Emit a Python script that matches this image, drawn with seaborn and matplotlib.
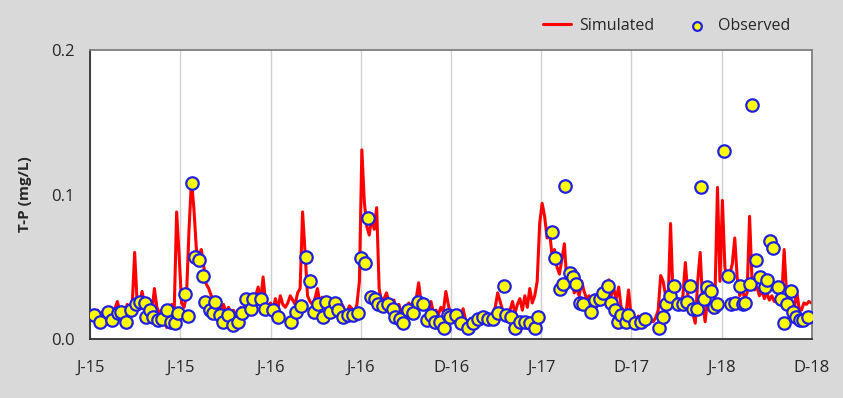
import numpy as np
import pandas as pd
import seaborn as sns
import matplotlib.pyplot as plt

# simulated T-P, one value every 5 days from 1 Jan 2015
sim_step = 5
sim_tp = [
    0.016, 0.018, 0.015, 0.020, 0.017, 0.019, 0.016, 0.022, 0.018, 0.020,
    0.021, 0.026, 0.019, 0.022, 0.018, 0.024, 0.020, 0.023, 0.060, 0.025,
    0.022, 0.033, 0.024, 0.028, 0.021, 0.019, 0.035, 0.022, 0.018, 0.020,
    0.012, 0.008, 0.020, 0.024, 0.018, 0.088, 0.058, 0.025, 0.022, 0.030,
    0.075, 0.110, 0.090, 0.062, 0.058, 0.062, 0.050, 0.038, 0.035, 0.030,
    0.028, 0.022, 0.026, 0.020, 0.024, 0.018, 0.022, 0.017, 0.020, 0.016,
    0.019, 0.022, 0.018, 0.025, 0.021, 0.028, 0.024, 0.030, 0.036, 0.026,
    0.043, 0.026, 0.022, 0.025, 0.020, 0.028, 0.021, 0.030, 0.024, 0.022,
    0.025, 0.030, 0.027, 0.024, 0.032, 0.035, 0.088, 0.060, 0.030, 0.026,
    0.024, 0.028, 0.035, 0.025, 0.029, 0.023, 0.027, 0.022, 0.026, 0.020,
    0.022, 0.018, 0.024, 0.020, 0.019, 0.023, 0.021, 0.018, 0.024, 0.040,
    0.131, 0.095, 0.078, 0.072, 0.085, 0.076, 0.091, 0.035, 0.026, 0.028,
    0.032, 0.025, 0.022, 0.027, 0.020, 0.024, 0.018, 0.022, 0.021, 0.025,
    0.023, 0.026, 0.028, 0.039, 0.025, 0.022, 0.024, 0.020, 0.026, 0.018,
    0.020, 0.017, 0.022, 0.019, 0.033, 0.024, 0.016, 0.018, 0.015, 0.017,
    0.014, 0.021, 0.013, 0.012, 0.011, 0.013, 0.012, 0.014, 0.013, 0.015,
    0.014, 0.016, 0.015, 0.018, 0.022, 0.032, 0.026, 0.020, 0.018, 0.016,
    0.020, 0.026, 0.018, 0.024, 0.028, 0.020, 0.030, 0.022, 0.035, 0.025,
    0.030, 0.040, 0.080, 0.094, 0.085, 0.070, 0.075, 0.058, 0.062, 0.050,
    0.045, 0.055, 0.066, 0.040, 0.036, 0.042, 0.032, 0.035, 0.030, 0.040,
    0.033, 0.028, 0.030, 0.024, 0.027, 0.022, 0.026, 0.030, 0.025, 0.032,
    0.041, 0.030, 0.035, 0.028, 0.036, 0.022, 0.020, 0.018, 0.034, 0.016,
    0.015, 0.013, 0.016, 0.014, 0.012, 0.015, 0.013, 0.014, 0.012, 0.015,
    0.020, 0.044, 0.040, 0.030, 0.025, 0.080, 0.030, 0.024, 0.028, 0.022,
    0.030, 0.053, 0.030, 0.026, 0.018, 0.011, 0.040, 0.060, 0.025, 0.012,
    0.028, 0.022, 0.018, 0.030, 0.105, 0.040, 0.096, 0.050, 0.040, 0.045,
    0.052, 0.070, 0.042, 0.030, 0.035, 0.028, 0.032, 0.085, 0.040, 0.034,
    0.036, 0.030, 0.034, 0.028, 0.032, 0.027, 0.030, 0.026, 0.029, 0.024,
    0.028, 0.062, 0.030, 0.022, 0.020, 0.018, 0.034, 0.022, 0.020, 0.025,
    0.024, 0.026, 0.025,
]

# observed samples (day since 1 Jan 2015, mg/L)
obs_day = [
    8, 20, 36, 45, 57, 63, 73, 83, 93, 101, 111, 113, 121, 127, 138, 146,
    156, 164, 172, 178, 192, 198, 206, 212, 221, 229, 233, 243, 249, 253,
    263, 269, 279, 289, 299, 308, 316, 326, 330, 346, 354,
    370, 380, 407, 417, 427, 437, 445, 453, 461, 471, 478, 486, 496, 502,
    512, 522, 532, 542, 548, 556, 563, 569, 577, 583, 593, 603, 613, 617,
    627, 633, 643, 654, 664, 674, 682, 690, 698, 708, 716, 724,
    728, 741, 751, 765, 775, 785, 795, 805, 815, 826, 838, 842, 852, 860,
    870, 880, 890, 900, 907, 935, 941, 951, 957, 961, 971, 977, 983, 992,
    998, 1014, 1022, 1032, 1038, 1048, 1054, 1062, 1068, 1074, 1085,
    1089, 1103, 1115, 1123, 1151, 1159, 1166, 1174, 1182, 1190, 1200, 1208,
    1214, 1220, 1228, 1236, 1242, 1248, 1257, 1263, 1269, 1283, 1291, 1297,
    1305, 1315, 1321, 1325, 1336, 1340, 1348, 1356, 1366, 1370, 1376, 1382,
    1392, 1398, 1404, 1410, 1418, 1423, 1429, 1437, 1443, 1453,
]
obs_tp = [
    0.017, 0.012, 0.019, 0.013, 0.018, 0.019, 0.012, 0.020, 0.024, 0.026,
    0.025, 0.015, 0.020, 0.015, 0.013, 0.014, 0.020, 0.012, 0.011, 0.018,
    0.031, 0.016, 0.108, 0.057, 0.055, 0.044, 0.026, 0.020, 0.018, 0.026,
    0.017, 0.012, 0.017, 0.010, 0.012, 0.018, 0.028, 0.021, 0.028, 0.028,
    0.021,
    0.020, 0.015, 0.012, 0.019, 0.023, 0.057, 0.040, 0.019, 0.024, 0.015,
    0.026, 0.019, 0.025, 0.020, 0.015, 0.017, 0.017, 0.018, 0.056, 0.053,
    0.084, 0.029, 0.028, 0.024, 0.023, 0.024, 0.021, 0.015, 0.014, 0.011,
    0.020, 0.018, 0.026, 0.024, 0.013, 0.017, 0.012, 0.012, 0.008, 0.017,
    0.015, 0.017, 0.011, 0.008, 0.011, 0.014, 0.015, 0.014, 0.014, 0.018,
    0.037, 0.017, 0.015, 0.008, 0.012, 0.012, 0.011, 0.008, 0.015, 0.074,
    0.056, 0.035, 0.038, 0.106, 0.046, 0.043, 0.038, 0.025, 0.024, 0.019,
    0.027, 0.028, 0.032, 0.037, 0.025, 0.020, 0.012, 0.017, 0.012,
    0.017, 0.011, 0.012, 0.014, 0.008, 0.015, 0.024, 0.030, 0.037, 0.024,
    0.024, 0.026, 0.037, 0.021, 0.021, 0.105, 0.028, 0.036, 0.033, 0.022,
    0.024, 0.130, 0.044, 0.024, 0.025, 0.037, 0.024, 0.025, 0.038, 0.162,
    0.055, 0.043, 0.036, 0.041, 0.068, 0.063, 0.036, 0.028, 0.011, 0.024,
    0.033, 0.019, 0.015, 0.013, 0.013, 0.015,
]

tick_labels = ["J-15", "J-15", "J-16", "J-16", "D-16", "J-17", "D-17", "J-18", "D-18"]
n_days = 1461

sim = pd.DataFrame({"day": np.arange(len(sim_tp)) * sim_step, "tp": sim_tp})
obs = pd.DataFrame({"day": obs_day, "tp": obs_tp})

sns.set_style("white")
plt.rcParams["font.family"] = ["Open Sans", "DejaVu Sans"]

fig = plt.figure(figsize=(8.43, 3.98), dpi=100, facecolor="#d9d9d9")
ax = fig.add_axes([0.107, 0.148, 0.856, 0.726])
ax.set_facecolor("white")

sns.lineplot(data=sim, x="day", y="tp", color="#ff0000", linewidth=2.2,
             label="Simulated", ax=ax, zorder=2)
sns.scatterplot(data=obs, x="day", y="tp", color="#ffff00", edgecolor="#1f1fe6",
                linewidth=1.6, s=80, label="Observed", ax=ax, zorder=3)

ax.set_xlim(0, n_days)
ax.set_ylim(0, 0.2)
ax.set_xticks(np.linspace(0, n_days, len(tick_labels)))
ax.set_xticklabels(tick_labels)
ax.set_yticks([0, 0.1, 0.2])
ax.set_yticklabels(["0.0", "0.1", "0.2"])
ax.xaxis.grid(True, color="#d0d0d0", linewidth=1)
ax.yaxis.grid(False)
ax.tick_params(axis="both", direction="out", length=5, width=1.2,
               color="#404040", labelsize=12, labelcolor="#262626", pad=6)
ax.tick_params(axis="x", pad=10)
ax.set_xlabel("")
ax.set_ylabel("T-P (mg/L)", fontsize=11, fontweight="bold", color="#262626", labelpad=14)

for side in ["left", "bottom"]:
    ax.spines[side].set_color("#303030")
    ax.spines[side].set_linewidth(1.3)
for side in ["top", "right"]:
    ax.spines[side].set_color("#7f7f7f")
    ax.spines[side].set_linewidth(1.3)

handles, labels = ax.get_legend_handles_labels()
ax.get_legend().remove()
fig.legend(handles, labels, loc="center right", bbox_to_anchor=(0.955, 0.935),
           ncol=2, frameon=False, fontsize=11.5, columnspacing=1.8,
           handlelength=1.8, handletextpad=0.45, markerscale=0.7)

plt.savefig("out.png", dpi=100, facecolor=fig.get_facecolor())
